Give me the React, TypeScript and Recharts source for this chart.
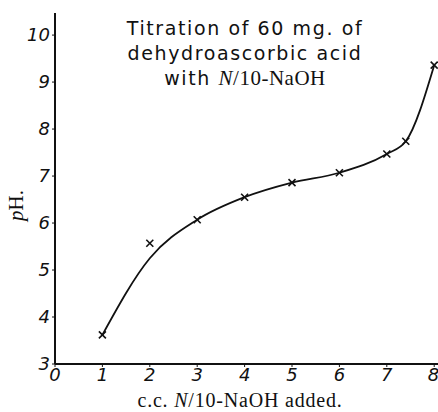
import { LineChart, Line, XAxis, YAxis } from "recharts";

// c.c. of N/10-NaOH added
const volumes = [1, 2, 3, 4, 5, 6, 7, 7.4, 8];
// measured pH (crosses)
const phValues = [3.62, 5.57, 6.07, 6.55, 6.86, 7.07, 7.47, 7.74, 9.36];
// smooth curve (passes below the point at 2 c.c.)
const curveValues = [3.62, 5.25, 6.07, 6.55, 6.86, 7.07, 7.47, 7.74, 9.36];

const xTicks = [0, 1, 2, 3, 4, 5, 6, 7, 8];
const yTicks = [3, 4, 5, 6, 7, 8, 9, 10];

const data = volumes.map((v, i) => ({ x: v, ph: phValues[i], curve: curveValues[i] }));

const tickFont = { fontFamily: "DejaVu Sans", fontStyle: "italic", fontSize: 18, fill: "#111" };

const Cross = (props: any) => {
    const { cx, cy } = props;
    if (cx == null || cy == null) return null;
    const s = 3.5;
    return (
        <g stroke='#111' strokeWidth={1.6}>
            <line x1={cx - s} y1={cy - s} x2={cx + s} y2={cy + s} />
            <line x1={cx - s} y1={cy + s} x2={cx + s} y2={cy - s} />
        </g>
    );
};

export default function App() {
    return (
        <div style={{ position: "relative", width: 438, height: 412, background: "#fff" }}>
            <style>{`body{margin:0}`}</style>
            <LineChart width={438} height={412} data={data} margin={{ top: 13, right: 0, left: 0, bottom: 0 }}>
                <XAxis
                    dataKey='x'
                    type='number'
                    domain={[0, 8.08]}
                    ticks={xTicks}
                    height={48}
                    tickSize={3}
                    tickMargin={1}
                    tick={tickFont}
                    axisLine={{ stroke: "#111", strokeWidth: 2 }}
                    tickLine={{ stroke: "#111" }}
                />
                <YAxis
                    type='number'
                    domain={[3, 10.47]}
                    ticks={yTicks}
                    width={55}
                    tickSize={3}
                    tickMargin={2}
                    tick={tickFont}
                    axisLine={{ stroke: "#111", strokeWidth: 2 }}
                    tickLine={{ stroke: "#111" }}
                />
                <Line
                    dataKey='curve'
                    type='monotone'
                    stroke='#111'
                    strokeWidth={1.8}
                    dot={false}
                    isAnimationActive={false}
                />
                <Line
                    dataKey='ph'
                    stroke='none'
                    dot={<Cross />}
                    activeDot={false}
                    isAnimationActive={false}
                />
            </LineChart>
            <div
                style={{
                    position: "absolute",
                    left: 85,
                    top: 16,
                    width: 320,
                    textAlign: "center",
                    fontFamily: "DejaVu Sans",
                    fontSize: 19,
                    letterSpacing: 1.6,
                    lineHeight: "25px",
                    color: "#111",
                }}
            >
                Titration of 60 mg. of
                <br />
                dehydroascorbic acid
                <br />
                with{" "}
                <span style={{ fontFamily: "Liberation Serif", fontSize: 21, letterSpacing: 0.5 }}>
                    <i>N</i>/10-NaOH
                </span>
            </div>
            <div
                style={{
                    position: "absolute",
                    left: 80,
                    top: 389,
                    width: 320,
                    textAlign: "center",
                    fontFamily: "Liberation Serif",
                    fontSize: 20,
                    letterSpacing: 0.8,
                    color: "#111",
                }}
            >
                c.c. <i>N</i>/10-NaOH added.
            </div>
            <div
                style={{
                    position: "absolute",
                    left: -6,
                    top: 193,
                    width: 44,
                    textAlign: "center",
                    transform: "rotate(-90deg)",
                    fontFamily: "Liberation Serif",
                    fontSize: 21,
                    color: "#111",
                }}
            >
                <i>p</i>H.
            </div>
        </div>
    );
}
